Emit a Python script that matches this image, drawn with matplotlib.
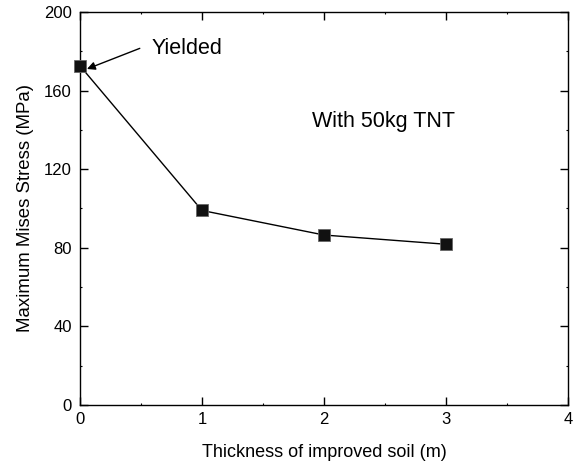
import numpy as np
import matplotlib.pyplot as plt
import matplotlib
from matplotlib.ticker import MultipleLocator

matplotlib.rc("font", family="Liberation Sans")

thickness = [0, 1, 2, 3]
stress = [172.6, 99, 86.5, 81.8]

fig = plt.figure(figsize=(5.81, 4.65), dpi=100)
ax = fig.add_axes([80/581, 60/465, 488/581, 393/465])

ax.plot(thickness, stress, color='k', lw=1, marker='s', ms=8.8,
        markerfacecolor='#111111', markeredgecolor='#666666', markeredgewidth=0.6,
        clip_on=False, zorder=3)

ax.set_xlim(0, 4)
ax.set_ylim(0, 200)
ax.set_xticks([0, 1, 2, 3, 4])
ax.set_yticks([0, 40, 80, 120, 160, 200])
ax.xaxis.set_minor_locator(MultipleLocator(0.5))
ax.yaxis.set_minor_locator(MultipleLocator(20))
ax.tick_params(direction='in', which='both', top=True, right=True, labelsize=12)
ax.tick_params(which='major', length=6, width=1)
ax.tick_params(which='minor', length=1.2, width=0.8)
ax.tick_params(axis='x', pad=5)
ax.tick_params(axis='y', pad=6)
for s in ax.spines.values():
    s.set_linewidth(1)

ax.set_xlabel('Thickness of improved soil (m)', fontsize=13, labelpad=12)
ax.set_ylabel('Maximum Mises Stress (MPa)', fontsize=13.4, labelpad=7)

ax.annotate('', xy=(0.057, 171), xytext=(0.49, 181.5),
            arrowprops=dict(arrowstyle='-|>', color='k', lw=1, shrinkA=0, shrinkB=0,
                            mutation_scale=12))
ax.text(0.59, 181.5, 'Yielded', fontsize=15.5, va='center', ha='left')
ax.text(1.9, 144.5, 'With 50kg TNT', fontsize=15.5, va='center', ha='left')

fig.savefig('out.png', dpi=100)
